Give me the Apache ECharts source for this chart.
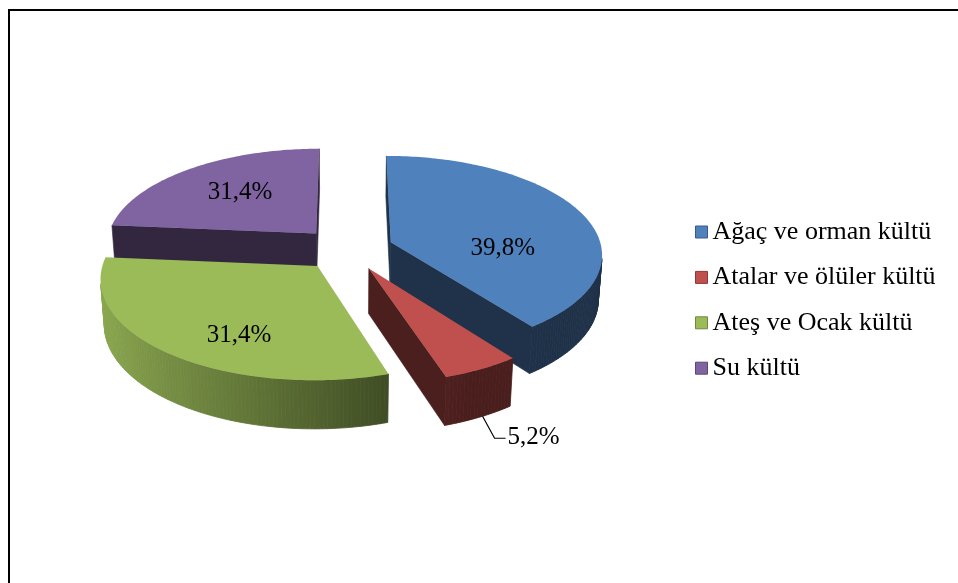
<!DOCTYPE html>
<html>
<head>
<meta charset="utf-8">
<style>
  html, body { margin: 0; padding: 0; background: #fff; }
  #main { width: 958px; height: 583px; }
</style>
<script src="https://cdn.jsdelivr.net/npm/echarts@6/dist/echarts.min.js"></script>
</head>
<body>
<div id="main"></div>
<script>
const categories = ['Ağaç ve orman kültü', 'Atalar ve ölüler kültü', 'Ateş ve Ocak kültü', 'Su kültü']
// slice sizes as drawn; the purple slice is ~23,6% although its label reads 31,4%
const values = [39.8, 5.2, 31.4, 23.6]
const labels = ['39,8%', '5,2%', '31,4%', '31,4%']

const colors = ['#4F81BD', '#C0504D', '#9BBB59', '#8064A2']
const borders = ['#385D8A', '#8C3836', '#71893F', '#5C4776']
const labelFont = 'Liberation Serif, Times New Roman, serif'
// small nudges so the labels sit where Excel put them
const labelNudge = [[0, 23], [0, 0], [5, 21], [0, -3]]

// simple perspective view of the pie (radius 1 in world units)
const view = { cx: 347, topY: 249, scale: 208, tilt: 29 * Math.PI / 180, dist: 8, height: 0.24, explode: 0.22 }

const total = values.reduce((a, b) => a + b, 0)
const angles = [] // clockwise from the back, radians
let acc = 0
values.forEach(v => {
  const s = acc / total * 2 * Math.PI
  acc += v
  angles.push([s, acc / total * 2 * Math.PI])
})

const sinT = Math.sin(view.tilt)
const cosT = Math.cos(view.tilt)
function depth(x, y, z) { return view.dist + y * cosT - z * sinT }
const cy0 = view.topY + view.scale * view.height * cosT * view.dist / depth(0, 0, view.height)
function proj(x, y, z) {
  const k = view.dist / depth(x, y, z)
  return [view.cx + view.scale * x * k, cy0 - view.scale * (y * sinT + z * cosT) * k]
}
// side faces are vertical, so only x/y of the normal matter
function facing(nx, ny, px, py) {
  const camY = -view.dist * cosT
  return nx * (0 - px) + ny * (camY - py) > 0
}
function shade(hex, f) {
  const n = parseInt(hex.slice(1), 16)
  const r = Math.round(((n >> 16) & 255) * f)
  const g = Math.round(((n >> 8) & 255) * f)
  const b = Math.round((n & 255) * f)
  return 'rgb(' + r + ',' + g + ',' + b + ')'
}

function renderSlice(i) {
  return function (params, api) {
    const a0 = angles[i][0]
    const a1 = angles[i][1]
    const mid = (a0 + a1) / 2
    const ox = view.explode * Math.sin(mid)
    const oy = view.explode * Math.cos(mid)
    const h = view.height
    const rim = (a, z) => proj(ox + Math.sin(a), oy + Math.cos(a), z)
    const children = []

    // radial cut faces
    const cuts = [[a0, -Math.cos(a0), Math.sin(a0)], [a1, Math.cos(a1), -Math.sin(a1)]]
    cuts.forEach(([a, nx, ny]) => {
      if (!facing(nx, ny, ox + 0.5 * Math.sin(a), oy + 0.5 * Math.cos(a))) return
      const c = shade(colors[i], 0.39)
      children.push({
        type: 'polygon',
        shape: { points: [proj(ox, oy, h), rim(a, h), rim(a, 0), proj(ox, oy, 0)] },
        style: { fill: c, stroke: c, lineWidth: 0.6 }
      })
    })

    // outer wall, lit from the left
    const n = Math.max(2, Math.ceil((a1 - a0) / (Math.PI / 180)))
    for (let k = 0; k < n; k++) {
      const b0 = a0 + (a1 - a0) * k / n
      const b1 = a0 + (a1 - a0) * (k + 1) / n
      const bm = (b0 + b1) / 2
      if (!facing(Math.sin(bm), Math.cos(bm), ox + Math.sin(bm), oy + Math.cos(bm))) continue
      const c = shade(colors[i], Math.max(0.38, 0.526 - 0.374 * Math.sin(bm)))
      children.push({
        type: 'polygon',
        shape: { points: [rim(b0, h), rim(b1, h), rim(b1, 0), rim(b0, 0)] },
        style: { fill: c, stroke: c, lineWidth: 0.8 }
      })
    }

    // top face
    const top = [proj(ox, oy, h)]
    for (let k = 0; k <= n; k++) top.push(rim(a0 + (a1 - a0) * k / n, h))
    children.push({ type: 'polygon', shape: { points: top }, style: { fill: colors[i] } })

    // data label
    const share = values[i] / total
    if (share >= 0.1) {
      const p = proj(ox + 0.58 * Math.sin(mid), oy + 0.58 * Math.cos(mid), h)
      children.push({
        type: 'text',
        x: p[0] + labelNudge[i][0],
        y: p[1] + labelNudge[i][1],
        style: {
          text: labels[i], fill: '#000', fontSize: 25, fontFamily: labelFont,
          align: 'center', verticalAlign: 'middle', textAlign: 'center', textVerticalAlign: 'middle'
        }
      })
    } else {
      const p = rim(a0 + 0.45 * (a1 - a0), 0)
      const elbow = [p[0] + 12, p[1] + 22]
      const end = [elbow[0] + 11, elbow[1]]
      children.push({
        type: 'polyline',
        shape: { points: [p, elbow, end] },
        style: { stroke: '#000', lineWidth: 1.2, fill: 'none' }
      })
      children.push({
        type: 'text',
        x: end[0] + 2,
        y: end[1] - 1,
        style: {
          text: labels[i], fill: '#000', fontSize: 25, fontFamily: labelFont,
          align: 'left', verticalAlign: 'middle', textAlign: 'left', textVerticalAlign: 'middle'
        }
      })
    }
    return { type: 'group', children }
  }
}

// back slices first
const order = values.map((v, i) => i).sort((p, q) =>
  Math.cos((angles[q][0] + angles[q][1]) / 2) - Math.cos((angles[p][0] + angles[p][1]) / 2))

const chart = echarts.init(document.getElementById('main'))
chart.setOption({
  backgroundColor: '#fff',
  animation: false,
  graphic: [{
    type: 'rect',
    silent: true,
    shape: { x: 9, y: 10, width: 1000, height: 1000 },
    style: { fill: 'none', stroke: '#000', lineWidth: 2 }
  }],
  legend: {
    orient: 'vertical',
    left: 695,
    top: 219,
    padding: 0,
    icon: 'rect',
    itemWidth: 12,
    itemHeight: 12,
    itemGap: 19.4,
    selectedMode: false,
    textStyle: { fontFamily: labelFont, fontSize: 26, color: '#000', lineHeight: 26 },
    data: categories.map((c, i) => ({
      name: c,
      itemStyle: { color: colors[i], borderColor: borders[i], borderWidth: 1 }
    }))
  },
  series: categories.map((c, i) => ({
    type: 'custom',
    name: c,
    coordinateSystem: 'none',
    silent: true,
    z: 2 + order.indexOf(i),
    itemStyle: { color: colors[i] },
    renderItem: renderSlice(i),
    data: [values[i]]
  }))
})
</script>
</body>
</html>
